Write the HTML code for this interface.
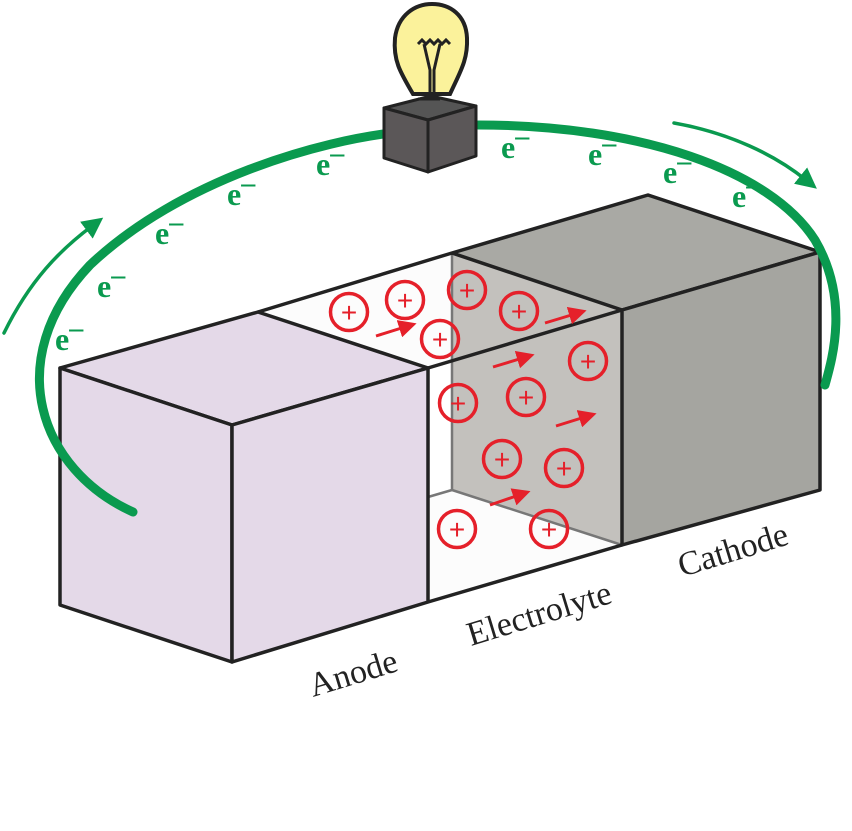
<!DOCTYPE html>
<html><head><meta charset="utf-8"><style>
html,body{margin:0;padding:0;background:#fff;}
svg{display:block;}
.e{font-family:"Liberation Serif",serif;font-weight:bold;font-size:32px;fill:#0a9a4f;}
.l{font-family:"Liberation Serif",serif;font-size:34px;fill:#222;}
</style></head><body>
<svg width="852" height="831" viewBox="0 0 852 831" xmlns="http://www.w3.org/2000/svg">
<polygon points="258,312 452,253 452,490 428,496 428,602 622,545 622,310 428,368" fill="#fcfcfc"/>
<polygon points="452,253 622,310 622,545 452,490" fill="#c3c1bd"/>
<line x1="452" y1="253" x2="452" y2="490" stroke="#777" stroke-width="2.5"/>
<line x1="452" y1="490" x2="622" y2="545" stroke="#777" stroke-width="2.5"/>
<line x1="452" y1="490" x2="428" y2="497" stroke="#777" stroke-width="2.5"/>
<polygon points="452,253 648,195 820,252 622,310" fill="#a9a9a4" stroke="#222" stroke-width="3.5" stroke-linejoin="round"/>
<polygon points="622,310 820,252 820,490 622,545" fill="#a5a5a0" stroke="#222" stroke-width="3.5" stroke-linejoin="round"/>
<line x1="258" y1="312" x2="452" y2="253" stroke="#222" stroke-width="3.5"/>
<line x1="428" y1="368" x2="622" y2="310" stroke="#222" stroke-width="3.5"/>
<line x1="428" y1="602" x2="622" y2="545" stroke="#222" stroke-width="3.5"/>
<polygon points="60,368 258,312 428,368 232,425" fill="#e4d9e8" stroke="#222" stroke-width="3.5" stroke-linejoin="round"/>
<polygon points="60,368 232,425 232,662 60,605" fill="#e4d9e8" stroke="#222" stroke-width="3.5" stroke-linejoin="round"/>
<polygon points="232,425 428,368 428,602 232,662" fill="#e4d9e8" stroke="#222" stroke-width="3.5" stroke-linejoin="round"/>
<g fill="none" stroke="#e5202a" stroke-width="3.5">
<circle cx="349" cy="312" r="18.5"/><circle cx="405" cy="300" r="18.5"/><circle cx="467" cy="290" r="18.5"/>
<circle cx="440" cy="339" r="18.5"/><circle cx="519" cy="311" r="18.5"/><circle cx="588" cy="361" r="18.5"/>
<circle cx="458" cy="403" r="18.5"/><circle cx="526" cy="397" r="18.5"/><circle cx="502" cy="459" r="18.5"/>
<circle cx="564" cy="468" r="18.5"/><circle cx="457" cy="529" r="18.5"/><circle cx="549" cy="529" r="18.5"/>
</g>
<g font-family="Liberation Sans,sans-serif" font-size="28" fill="#e5202a" text-anchor="middle">
<text x="349" y="322">+</text><text x="405" y="310">+</text><text x="467" y="300">+</text>
<text x="440" y="349">+</text><text x="519" y="321">+</text><text x="588" y="371">+</text>
<text x="458" y="413">+</text><text x="526" y="407">+</text><text x="502" y="469">+</text>
<text x="564" y="478">+</text><text x="457" y="539">+</text><text x="549" y="539">+</text>
</g>
<defs>
<marker id="ra" markerWidth="6" markerHeight="6" refX="3" refY="3" orient="auto"><path d="M0,0 L6,3 L0,6z" fill="#e5202a"/></marker>
<marker id="ga" markerWidth="6" markerHeight="6" refX="2" refY="3" orient="auto"><path d="M0,0 L6,3 L0,6z" fill="#0a9a4f"/></marker>
</defs>
<g stroke="#e5202a" stroke-width="3" marker-end="url(#ra)">
<line x1="376" y1="336" x2="408" y2="326"/>
<line x1="545" y1="323" x2="578" y2="313"/>
<line x1="493" y1="367" x2="526" y2="357"/>
<line x1="556" y1="426" x2="588" y2="416"/>
<line x1="490" y1="505" x2="522" y2="494"/>
</g>
<g fill="none" stroke="#0a9a4f" stroke-linecap="round">
<path d="M133,512 C40,470 0,360 90,265 C180,180 320,140 400,132" stroke-width="9"/>
<path d="M478,125 C640,125 770,170 815,240 C850,300 832,360 825,385" stroke-width="9"/>
<path d="M4,333 C30,280 60,250 92,226" stroke-width="3.5" marker-end="url(#ga)"/>
<path d="M674,123 C730,133 775,155 806,180" stroke-width="3.5" marker-end="url(#ga)"/>
</g>
<g class="e">
<text x="55" y="350">e<tspan dy="-13" font-size="28">–</tspan></text>
<text x="97" y="297">e<tspan dy="-13" font-size="28">–</tspan></text>
<text x="155" y="244">e<tspan dy="-13" font-size="28">–</tspan></text>
<text x="227" y="205">e<tspan dy="-13" font-size="28">–</tspan></text>
<text x="316" y="175">e<tspan dy="-13" font-size="28">–</tspan></text>
<text x="501" y="158">e<tspan dy="-13" font-size="28">–</tspan></text>
<text x="588" y="165">e<tspan dy="-13" font-size="28">–</tspan></text>
<text x="663" y="183">e<tspan dy="-13" font-size="28">–</tspan></text>
<text x="732" y="207">e<tspan dy="-13" font-size="28">–</tspan></text>
</g>
<path d="M413,94 C400,72 393,60 395,38 C398,15 415,4 432,4 C450,4 466,15 467,38 C468,60 460,72 450,94 Z" fill="#fbf29b" stroke="#222" stroke-width="4"/>
<path d="M418,44 l4,-4 4,4 4,-4 4,4 4,-4 4,4 4,-4 4,4 M424,44 L430,70 L430,94 M440,44 L434,70 L434,94" fill="none" stroke="#222" stroke-width="3"/>
<polygon points="384,108 431,96 476,106 428,120" fill="#555" stroke="#222" stroke-width="3" stroke-linejoin="round"/>
<polygon points="384,108 428,120 428,172 384,158" fill="#5b5758" stroke="#222" stroke-width="3" stroke-linejoin="round"/>
<polygon points="428,120 476,106 476,156 428,172" fill="#5b5758" stroke="#222" stroke-width="3" stroke-linejoin="round"/>
<line x1="418" y1="99" x2="440" y2="99" stroke="#222" stroke-width="3"/>
<text class="l" transform="translate(313,697) rotate(-17)">Anode</text>
<text class="l" transform="translate(471,646) rotate(-17)">Electrolyte</text>
<text class="l" transform="translate(682,577) rotate(-17)">Cathode</text>
</svg>
</body></html>
